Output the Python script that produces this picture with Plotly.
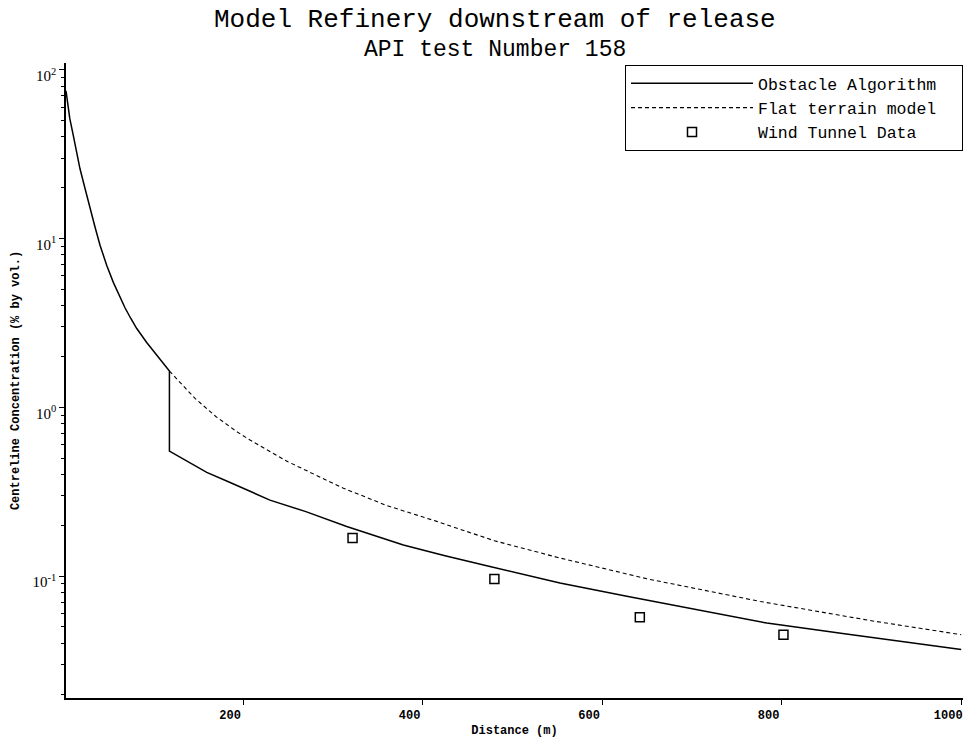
import plotly.graph_objects as go

# ---- data ----
obstacle_x = [2.8, 4.2, 7, 10.9, 14.5, 18.4, 24, 29.5, 35.1, 40.7, 48.1, 55.5, 62, 68.5,
              75, 81.6, 92.7, 103.9, 111.2, 118, 118,
              140, 159.6, 185, 207.8, 230, 270, 315.5, 378.6, 425, 475, 553, 627.5, 700,
              783.5, 870, 940, 1000]
obstacle_y = [75, 67, 51.5, 40.8, 32, 25.9, 19.8, 15.1, 11.7, 9.13, 6.95, 5.5, 4.59, 3.89,
              3.36, 2.93, 2.42, 2.04, 1.82, 1.64, 0.55,
              0.471, 0.412, 0.36, 0.317, 0.282, 0.241, 0.197, 0.153, 0.132, 0.114, 0.091,
              0.076, 0.064, 0.0527, 0.0456, 0.0405, 0.0367]

flat_x = [118, 146.5, 170, 193, 207.8, 250, 311.8, 360, 415.8, 480, 553, 650, 776, 900, 1000]
flat_y = [1.64, 1.13, 0.88, 0.718, 0.64, 0.476, 0.332, 0.262, 0.211, 0.162, 0.128, 0.0964,
          0.0708, 0.0544, 0.045]

tunnel_x = [322, 480, 642, 802]
tunnel_y = [0.168, 0.096, 0.057, 0.045]

ytick_vals = [0.1, 1, 10, 100]
ytick_text = ["10<sup>-1</sup>", "10<sup>0</sup>", "10<sup>1</sup>", "10<sup>2</sup>"]
xtick_vals = [200, 400, 600, 800, 1000]

MONO = "Liberation Mono, Courier New, monospace"
PAD = "\u00a0\u00a0"

fig = go.Figure()
fig.add_trace(go.Scatter(x=obstacle_x, y=obstacle_y, mode="lines",
                         name="Obstacle Algorithm" + PAD,
                         line=dict(color="black", width=1.5)))
fig.add_trace(go.Scatter(x=flat_x, y=flat_y, mode="lines",
                         name="Flat terrain model" + PAD,
                         line=dict(color="black", width=1.1, dash="4px,3px")))
fig.add_trace(go.Scatter(x=tunnel_x, y=tunnel_y, mode="markers",
                         name="Wind Tunnel Data" + PAD,
                         marker=dict(symbol="square-open", size=9, color="black",
                                     line=dict(width=1.5, color="black"))))

fig.update_layout(
    width=963, height=738,
    margin=dict(l=66, r=0, t=63, b=38),
    paper_bgcolor="white", plot_bgcolor="white",
    font=dict(family=MONO, color="black"),
    showlegend=True,
    legend=dict(x=1, xanchor="right", y=0.997, yanchor="top",
                bordercolor="black", borderwidth=1, bgcolor="white",
                font=dict(family=MONO, size=16.5, color="black"),
                itemwidth=122, tracegroupgap=0),
    xaxis=dict(range=[2.8, 1002], showgrid=False, zeroline=False,
               showline=True, linecolor="black", linewidth=1.5,
               ticks="outside", ticklen=5, tickcolor="black",
               tickvals=xtick_vals, ticklabelshift=-13, ticklabeloverflow="allow",
               tickfont=dict(family=MONO, size=12, color="black", weight="bold"),
               title=dict(text="<b>Distance (m)</b>", font=dict(family=MONO, size=12),
                          standoff=6)),
    yaxis=dict(type="log", range=[-1.722, 2.04], showgrid=False, zeroline=False,
               showline=True, linecolor="black", linewidth=1.5,
               ticks="outside", ticklen=5, tickcolor="black",
               tickvals=ytick_vals, ticktext=ytick_text, ticklabelshift=6,
               tickfont=dict(family="Liberation Serif, serif", size=15, color="black"),
               minor=dict(ticks="outside", ticklen=3, tickcolor="black", dtick="D1"),
               title=dict(text="<b>Centreline Concentration (% by vol.)</b>",
                          font=dict(family=MONO, size=12), standoff=10)),
    annotations=[
        dict(text="Model Refinery downstream of release", xref="paper", yref="paper",
             x=0.478, y=1.0675, yanchor="middle", showarrow=False,
             font=dict(family=MONO, size=26, color="black")),
        dict(text="API test Number 158", xref="paper", yref="paper",
             x=0.478, y=1.0204, yanchor="middle", showarrow=False,
             font=dict(family=MONO, size=23, color="black")),
    ],
)

fig.write_html("out.html")
